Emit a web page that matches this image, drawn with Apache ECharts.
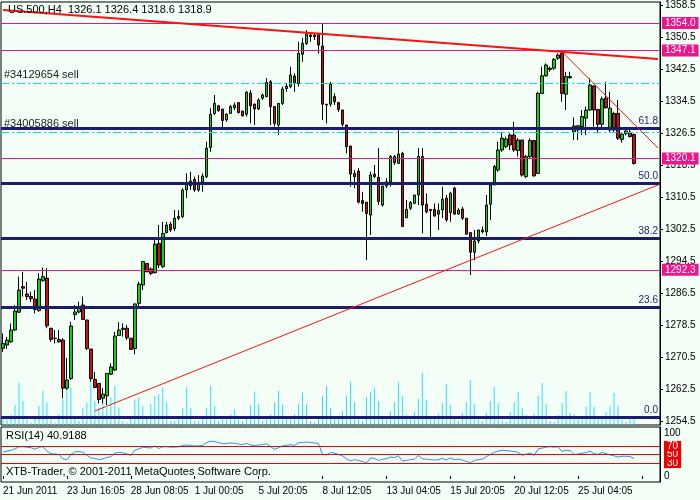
<!DOCTYPE html>
<html><head><meta charset="utf-8">
<script src="https://cdn.jsdelivr.net/npm/echarts@6/dist/echarts.min.js"></script>
<style>html,body{margin:0;padding:0;background:#f3fff6}#c{width:700px;height:500px}</style>
</head><body><div id="c"></div>
<script>
// OHLC per H4 bar: [open, high, low, close]
const ohlc = [
[1272.7,1276.4,1271.8,1273.9],[1273.5,1275.5,1272.5,1274.75],[1274.3,1278.9,1274.0,1277.25],[1277.25,1283.5,1277,1282.0],
[1281.7,1290.6,1281.5,1287.25],[1288.1,1291.8,1285.6,1287.7],[1286.25,1289.3,1284.75,1285.6],[1285.6,1286.8,1284.3,1285.1],
[1285,1287.25,1281.4,1282.4],[1282.1,1291.4,1281.8,1290],[1289.6,1292.9,1289.3,1290.6],[1290.2,1292.7,1277.7,1278.3],
[1277.7,1277.7,1274.3,1274.9],[1275.2,1277.25,1273.9,1275.1],[1274.9,1277.25,1274.1,1274.3],[1274.75,1275.2,1260.2,1262.7],
[1262.7,1270.2,1262.25,1264.75],[1265.1,1279.3,1264.75,1278.25],[1281.1,1283.5,1279.75,1281.75],[1281.75,1284.3,1281.4,1283.1],
[1283.5,1285.6,1279.75,1279.9],[1279.75,1279.75,1272.25,1272.6],[1272.5,1272.5,1264.3,1265.1],[1264.9,1266.8,1262.7,1262.9],
[1263.9,1263.9,1258.9,1259.9],[1260.2,1262.7,1258.9,1261.2],[1260.8,1266.4,1258.5,1266.4],[1266.2,1268.9,1266,1268],
[1267.25,1276.8,1267,1275.75],[1275.9,1279.2,1275.75,1277.25],[1277.4,1278.9,1275.6,1277.7],[1277.7,1278.5,1274.75,1275.3],
[1275.2,1275.2,1272.25,1272.4],[1272.6,1283.9,1271.2,1283.75],[1283.9,1289.3,1282.7,1288.75],[1288.5,1294.4,1287.25,1294.4],
[1293.9,1293.9,1291.8,1291.8],[1292.5,1292.9,1291,1291.4],[1291.6,1299.75,1291.4,1298.7],[1298.9,1303.5,1292.7,1293.5],
[1293.1,1304.3,1292.7,1301.4],[1301.6,1304.3,1301.4,1303.5],[1303.75,1304.3,1301.8,1302.25],[1302.6,1307.25,1302,1305.2],
[1305.6,1307.25,1304.75,1305.2],[1305.6,1312.7,1305.2,1312.25],[1312.25,1316.4,1310.2,1313.9],[1313.3,1316.8,1312.25,1314.5],
[1314.9,1315.6,1311.8,1312.25],[1312.25,1316,1311.8,1313.9],[1314.3,1316.4,1311.8,1315.75],[1315.6,1324.3,1315.2,1322.7],
[1322.9,1332.7,1321.8,1331.2],[1331.4,1336,1331,1333.9],[1333.3,1333.5,1331.8,1332.1],[1332.5,1332.5,1327.7,1329.6],
[1329.75,1331.4,1329.3,1331.2],[1331.4,1333.5,1331.25,1333.1],[1332.8,1334.1,1332.25,1333.5],[1334.1,1334.1,1331.4,1331.6],
[1332,1332,1330.6,1330.8],[1331.2,1337,1330.6,1336.7],[1336.5,1337.25,1328.9,1333.3],[1333.7,1333.9,1328.5,1332.5],
[1332.5,1335.2,1332.25,1334.75],[1335.2,1336.4,1334.75,1336],[1335.6,1340.2,1335.4,1339.1],[1339.3,1339.75,1328.5,1333.1],
[1333.1,1333.1,1328.1,1328.9],[1328.5,1333.9,1326,1333.9],[1333.9,1338.1,1333.5,1337.5],[1337.6,1338.9,1336.8,1338.2],
[1338.1,1343.1,1337.7,1341],[1340.75,1341.4,1336.8,1338.9],[1338.9,1349.3,1338.1,1346.4],[1346.2,1350.2,1344.3,1348.9],
[1348.9,1352.25,1348.5,1351.25],[1350.6,1351.4,1349.3,1351],[1351,1351.4,1349.75,1350.6],[1351.25,1351.25,1346.4,1348.5],
[1348.25,1353.9,1329.75,1333.7],[1333.7,1333.7,1328.9,1333.5],[1333.7,1339.3,1333.1,1338.75],[1335.6,1336.4,1333.5,1334.3],
[1334.1,1334.1,1331.8,1332.4],[1332.25,1332.25,1328.1,1328.7],[1328.5,1328.5,1321.4,1323.1],[1323.25,1323.25,1313.1,1316.25],
[1316.4,1317.25,1312.7,1315.6],[1317,1317.7,1308.9,1309.2],[1309.6,1311.8,1306.8,1308.9],[1309.2,1309.2,1294.75,1306.4],
[1306,1316.8,1301,1316],[1316.2,1318.5,1315.2,1315.6],[1315.4,1322.7,1308.5,1309.4],[1308.5,1313.25,1308.1,1313.25],
[1313.3,1315.2,1312.7,1314.3],[1314.3,1321,1313.1,1320.6],[1320.6,1321,1318.5,1319.1],[1318.9,1327.25,1318.9,1321.25],
[1321.4,1321.8,1303.1,1303.1],[1305.3,1309.75,1305.2,1307.4],[1307.7,1309.5,1307.25,1309.1],[1308.9,1311,1308.9,1311],
[1311,1322.7,1308.5,1320.6],[1320.6,1322.7,1301.4,1308.5],[1308.7,1311.4,1306.4,1306.8],[1307.4,1307.4,1300.2,1307.1],
[1307.4,1308.9,1305.6,1305.75],[1306.2,1308.9,1302.25,1307.1],[1307.25,1313.1,1305.2,1309.9],[1310.2,1311,1304.3,1304.75],
[1306.6,1311.8,1304.3,1311.4],[1312.7,1313.1,1306,1306.25],[1306.25,1307.7,1306,1307.25],[1307.5,1308.1,1304.75,1305.2],
[1305.2,1305.2,1301.2,1301.2],[1301.6,1301.6,1291,1296.7],[1296.7,1302.25,1294.75,1299.5],[1299.5,1302.25,1298.9,1302.25],
[1301.8,1303.1,1301.4,1302.25],[1301.8,1311,1300.75,1308.5],[1308.7,1313.5,1304.75,1313.5],[1313.5,1318.5,1313.5,1318.1],
[1317.25,1324.3,1316.8,1322.25],[1322.25,1326.8,1321.8,1325.2],[1323.1,1325.6,1322.7,1325],[1326,1326.4,1322.25,1323.5],
[1326,1329.3,1321.8,1322.25],[1322.1,1325.2,1320.6,1324.75],[1324.75,1324.75,1315.6,1316],[1315.6,1321,1315.2,1320.6],
[1320.6,1325.2,1320.2,1324.6],[1324.6,1324.6,1315.6,1315.8],[1316.4,1336.8,1316.4,1336.4],[1336.4,1343.1,1336.4,1340.8],
[1340.8,1343.9,1340.6,1343.5],[1342.4,1343.1,1341.8,1342.7],[1342.7,1345.2,1342.25,1344.9],[1345.2,1346.4,1344.8,1346],
[1346.4,1346.8,1334.3,1336.4],[1336.2,1341.8,1332.25,1340.6],[1340.6,1341.8,1340.1,1340.3],[1326.8,1330.4,1324.75,1328.25],
[1327.25,1328.5,1324.75,1328.3],[1328.1,1332.25,1326,1330.6],[1330.2,1333.1,1326,1332.25],[1332.25,1340.2,1332,1338.5],
[1338.25,1338.5,1328.1,1332.25],[1332.4,1332.4,1326.4,1328.7],[1328.7,1335.6,1328,1335],[1335.2,1339.3,1332.6,1332.8],
[1327.25,1336.8,1326.8,1332.7],[1331.4,1331.8,1326.8,1327.25],[1331.4,1334.75,1324.75,1325.2],[1324.9,1326.4,1324.1,1326.2],
[1326.4,1327.25,1325.9,1327],[1326.7,1327.25,1325.4,1325.6],[1326.1,1326.4,1318.6,1318.9]
];
const volumes = [17,17,30,60,127,72,17,7,22,57,102,67,17,7,32,77,137,112,22,12,52,67,127,72,52,77,52,82,117,52,
12,7,27,77,82,57,22,62,87,92,112,67,12,12,27,52,114,52,12,12,22,52,117,57,12,17,22,32,47,17,
12,22,60,100,62,12,17,32,67,102,62,27,17,32,62,97,62,12,7,27,87,117,52,22,22,42,87,
129,67,17,12,85,100,112,72,27,17,42,69,129,87,30,17,40,79,157,75,27,22,34,66,124,60,22,12,37,69,
135,64,17,12,37,72,115,65,15,9,39,69,99,52,30,15,32,87,126,62,12,9,30,66,102,36,32,17,27,54,
100,55,22,22,39,57,96,57,14,9,22,17];
const rsi = [56,58,60,63,68,68,67,66,62,67,68,58,52,51,50,40,38,50,56,57,55,48,42,41,38,40,43,45,53,55,
54,51,48,60,63,67,66,65,70,64,68,68,67,67,68,71,72,71,70,70,71,78,81,80,78,75,76,77,76,74,
73,76,72,71,72,73,75,68,62,66,70,71,73,71,77,78,79,78,77,75,50,49,55,53,50,47,40,35,38,36,
34,30,42,41,36,39,40,44,43,47,35,36,38,39,48,40,39,38,37,38,41,37,42,38,39,37,34,31,36,38,
39,45,50,55,58,60,59,58,57,55,48,51,53,48,63,65,67,68,67,68,57,60,59,50,51,53,54,58,52,50,
55,52,49,47,44,46,46,45,41];
const dateLabels = ['21 Jun 2011','23 Jun 16:05','28 Jun 08:05','1 Jul 00:05','5 Jul 20:05','8 Jul 12:05','13 Jul 04:05','15 Jul 20:05','20 Jul 12:05','25 Jul 04:05'];
const priceTicks = [1254.5,1262.5,1270.5,1278.5,1286.5,1294.5,1302.5,1310.5,1318.5,1326.5,1334.5,1342.5,1350.5,1358.5];
const priceLevels = [1354.0,1347.1,1320.1,1292.3];
const fibLevels = [[1327.75,'61.8'],[1314,'50.0'],[1300.25,'38.2'],[1283,'23.6'],[1255.5,'0.0']];
const orders = [[1339,'#34129654 sell'],[1326.75,'#34005886 sell']];
const lastPrice = 1318.9;
const trendLines = [[[0,1357.25],[164,1345],2],[[23,1257],[164,1313.5],1],[[140,1346.8],[164,1322.75],1]];
const rsiLevels = [70,50,30];

const N = 165;
const cats = Array.from({length:N},(_,i)=>String(i));
const candleData = ohlc.map(d=>[d[0],d[3],d[2],d[1]]);
const F = 'Liberation Sans';
const pink = '#f0148c', navy = '#1c1c6e';

const ml = [];
ml.push({yAxis:lastPrice,lineStyle:{opacity:0},label:{show:true,position:'end',distance:2,formatter:String(lastPrice.toFixed(1)),color:'#fff',backgroundColor:'#000',padding:[1,3],fontFamily:F,fontSize:10}});
orders.forEach(o=>ml.push({yAxis:o[0],lineStyle:{color:'#00e0f0',width:1,type:[8,3,2,3]},label:{show:true,position:'insideStartTop',formatter:o[1],color:'#222',fontFamily:F,fontSize:11,distance:3}}));
priceLevels.forEach(p=>ml.push({yAxis:p,lineStyle:{color:pink,width:1,type:'solid'},label:{show:true,position:'end',distance:2,formatter:p.toFixed(1),color:'#fff',backgroundColor:pink,padding:[1,3],fontFamily:F,fontSize:10}}));
fibLevels.forEach(f=>ml.push({yAxis:f[0],lineStyle:{color:navy,width:3,type:'solid'},label:{show:true,position:'insideEndTop',formatter:f[1],color:navy,fontFamily:F,fontSize:10,distance:2}}));
trendLines.forEach(t=>ml.push([{coord:[String(t[0][0]),t[0][1]],lineStyle:{color:'#ff1010',width:t[2],type:'solid'},label:{show:false}},{coord:[String(t[1][0]),t[1][1]]}]));

const chart = echarts.init(document.getElementById('c'));
chart.setOption({
  animation:false,
  backgroundColor:'#f3fff6',
  grid:[{left:1,right:40,top:2,height:423,show:true,borderColor:'#000',borderWidth:1},
        {left:1,right:40,top:427,height:55,show:true,borderColor:'#000',borderWidth:1}],
  xAxis:[{type:'category',data:cats,gridIndex:0,axisLine:{show:false},axisTick:{show:false},axisLabel:{show:false}},
         {type:'category',data:cats,gridIndex:1,axisLine:{show:false},
          axisTick:{show:true,interval:(i)=>i%16===0,length:3,lineStyle:{color:'#000'},alignWithLabel:true},
          axisLabel:{interval:(i)=>i%16===0,formatter:(v,i)=>dateLabels[i/16]||'',align:'left',color:'#000',fontFamily:F,fontSize:10,margin:4}}],
  yAxis:[{type:'value',gridIndex:0,position:'right',min:1253.5,max:1359.25,splitLine:{show:false},
          axisLine:{show:true,lineStyle:{color:'#000'}},axisTick:{show:true,customValues:priceTicks,length:3,lineStyle:{color:'#000'}},
          axisLabel:{customValues:priceTicks,formatter:v=>v.toFixed(1),color:'#000',fontFamily:F,fontSize:10,margin:5}},
         {type:'value',gridIndex:0,min:0,max:1269,show:false,splitLine:{show:false}},
         {type:'value',gridIndex:1,position:'right',min:-14,max:114,splitLine:{show:false},
          axisLine:{show:true,lineStyle:{color:'#000'}},axisTick:{show:false},
          axisLabel:{customValues:[0,30,50,70,100],color:'#000',fontFamily:F,fontSize:10,margin:4,
            formatter:v=>(v===30||v===50||v===70)?'{r|'+v+'}':String(v),
            rich:{r:{color:'#fff',backgroundColor:'#f00000',padding:[0,3],lineHeight:11,fontFamily:F,fontSize:10}}}}],
  graphic:[
    {type:'text',left:8,top:4,style:{text:'US.500,H4  1326.1 1326.4 1318.6 1318.9',fill:'#000',font:'11px "Liberation Sans"'},z:100},
    {type:'text',left:6,top:430,style:{text:'RSI(14) 40.9188',fill:'#000',font:'11px "Liberation Sans"'},z:100},
    {type:'text',left:6,top:466,style:{text:'XTB-Trader, © 2001-2011 MetaQuotes Software Corp.',fill:'#000',font:'11px "Liberation Sans"'},z:100}
  ],
  series:[
    {type:'bar',xAxisIndex:0,yAxisIndex:1,data:volumes,barWidth:1,itemStyle:{color:'#30e0f0'},silent:true,z:1},
    {type:'candlestick',xAxisIndex:0,yAxisIndex:0,data:candleData,barWidth:3,z:3,
     itemStyle:{color:'#00dc00',color0:'#d01010',borderColor:'#000',borderColor0:'#000',borderWidth:1},
     markLine:{silent:true,symbol:'none',animation:false,data:ml}},
    {type:'line',xAxisIndex:1,yAxisIndex:2,data:rsi,showSymbol:false,lineStyle:{color:'#2a8ff0',width:1},
     markLine:{silent:true,symbol:'none',label:{show:false},lineStyle:{color:'#f00000',width:1,type:'solid'},data:rsiLevels.map(v=>({yAxis:v}))}}
  ]
});
</script></body></html>
